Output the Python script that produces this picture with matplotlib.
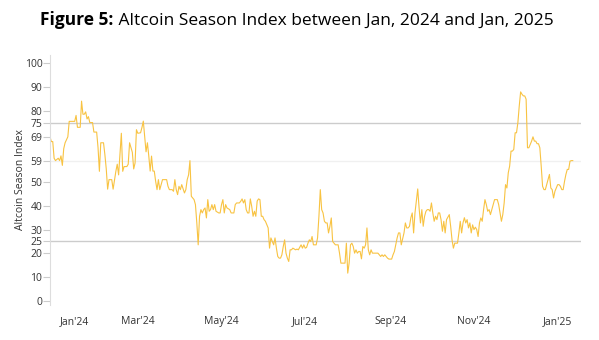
import matplotlib
matplotlib.use('Agg')
import matplotlib.pyplot as plt
import numpy as np
import pandas as pd

# days since 2023-12-28 and index values
day = [0, 1, 2, 3, 4, 6, 7, 8, 9, 10, 11, 13, 14, 16, 18, 19, 20, 22, 23, 24,
       25, 26, 27, 28, 29, 31, 32, 34, 35, 36, 37, 39, 40, 41, 42, 43, 45, 46, 48, 49,
       50, 52, 53, 54, 56, 57, 58, 60, 61, 62, 63, 64, 66, 67, 68, 70, 71, 72, 73, 74,
       75, 76, 77, 78, 79, 80, 82, 84, 85, 86, 87, 89, 90, 91, 92, 93, 94, 95, 96, 98,
       99, 100, 101, 102, 103, 105, 106, 107, 108, 109, 110, 111, 112, 113, 114, 115, 116, 117, 118, 119,
       120, 121, 123, 124, 125, 126, 127, 128, 129, 131, 132, 134, 135, 136, 138, 139, 140, 141, 142, 143,
       144, 145, 146, 147, 148, 149, 150, 151, 152, 153, 154, 155, 156, 157, 158, 159, 160, 161, 162, 163,
       164, 165, 166, 167, 168, 169, 170, 171, 172, 173, 174, 175, 176, 177, 179, 180, 181, 183, 184, 185,
       186, 187, 188, 189, 190, 191, 192, 193, 194, 195, 196, 197, 198, 199, 200, 201, 202, 203, 204, 205,
       206, 208, 210, 211, 212, 214, 215, 216, 217, 218, 219, 220, 221, 222, 223, 224, 225, 226, 227, 228,
       229, 230, 231, 232, 233, 234, 235, 237, 239, 240, 241, 242, 243, 244, 246, 247, 249, 250, 251, 252,
       253, 254, 255, 256, 258, 259, 260, 261, 262, 263, 264, 265, 266, 267, 268, 269, 270, 271, 272, 273,
       274, 275, 276, 277, 278, 279, 280, 281, 282, 283, 284, 285, 286, 287, 288, 289, 291, 292, 293, 294,
       295, 296, 297, 298, 299, 300, 301, 302, 303, 304, 305, 306, 307, 308, 309, 310, 311, 312, 313, 314,
       315, 316, 317, 318, 319, 320, 321, 322, 323, 324, 325, 326, 327, 328, 329, 330, 331, 332, 333, 334,
       335, 336, 337, 338, 339, 340, 341, 342, 343, 344, 345, 346, 347, 348, 349, 350, 351, 352, 353, 354,
       355, 356, 357, 358, 359, 360, 361, 362, 363, 364, 365, 366, 367, 368, 369, 370, 371, 372, 373, 374,
       375, 376, 377, 378, 379, 380, 381]
index_value = [69, 67, 67, 60, 59, 60, 59, 61, 57, 64, 66.5, 69, 75.5, 75.5, 75.5, 78, 73, 73, 84, 78.5,
               78.5, 79.5, 76.5, 77.5, 75, 75, 71, 71, 64.5, 54.5, 66.5, 66.5, 61.5, 55.5, 47, 51, 51, 47, 54.5, 57.5,
               53, 70.5, 54.5, 56.5, 56.5, 57.5, 66.5, 62.5, 55.5, 58, 72, 70.5, 70.7, 72.9, 75.6, 62.7, 66.5, 60.9, 54.6, 60.9,
               54.6, 54.6, 50.3, 46.8, 51, 46.8, 51, 51, 51, 48.2, 46.8, 46.8, 46.1, 51, 46.8, 44.7, 48.2, 46.8, 48.9, 45.4,
               46.8, 51, 53, 59, 44, 42.6, 40.5, 32.8, 23.6, 35.6, 38.4, 37, 38.4, 39.1, 34.9, 42.6, 37.7, 38.4, 40.5, 38.4,
               40.5, 37.7, 37, 37, 40.5, 42.6, 37, 40.5, 39.1, 38.4, 37, 37, 40.5, 41.2, 41.2, 41.9, 42.9, 41.2, 42.6, 38.4,
               37, 37, 42.9, 39.8, 35.6, 37.7, 35.6, 42, 42.9, 42.6, 35.6, 35.6, 34.2, 33.5, 32.1, 30.7, 22.2, 26.5, 25, 23.6,
               26.5, 22.2, 18.7, 18, 18, 19.4, 22.9, 25.7, 20.1, 18, 16.6, 21.5, 21.5, 22.2, 21.5, 21.8, 21.5, 23.6, 22.2, 23.6,
               22.2, 22.5, 24.3, 25.7, 25, 27.1, 23.6, 23.6, 23.6, 26.5, 35.6, 46.8, 38.4, 37, 33.5, 32.8, 32.8, 28.6, 31.4, 34.9,
               25, 23.6, 23.6, 20.1, 15.9, 15.9, 15.9, 24.3, 11.7, 15.9, 23.6, 24.3, 22.9, 20.1, 21.5, 20.1, 20.8, 20.8, 17.7, 22.9,
               22.2, 23.6, 30.7, 21.5, 19.4, 21.5, 20.1, 20.1, 20.1, 19.4, 18.7, 19.4, 18.7, 19.4, 18, 17.6, 17.6, 19.4, 20.8, 23.6,
               26.5, 28.6, 28.6, 23.6, 28.6, 32.8, 30.7, 30.7, 31.4, 35, 37, 28.6, 37, 42, 47.1, 39.1, 32.8, 38.4, 31.4, 35.6,
               37.7, 38.4, 38.4, 37.7, 41.2, 37, 33.5, 35.6, 34.2, 37, 37, 34.2, 29.3, 33.5, 28.6, 34.2, 36.3, 31.4, 25.7, 22.2,
               24.3, 24.3, 24.3, 28.6, 33.5, 28.6, 32.8, 35, 32.8, 34.2, 30.7, 32.8, 28.6, 32, 30, 31, 30, 27.1, 32.8, 34.9,
               33.5, 38.4, 42.6, 40.5, 37.7, 38.4, 36.3, 38.4, 40.5, 42.6, 42.6, 42.6, 40.5, 37, 33.5, 36.3, 41.2, 48.9, 47.5, 53.9,
               56.7, 63, 63, 63.7, 70.7, 70.7, 75, 82, 87.9, 86.9, 86.2, 86.2, 84.8, 64.4, 64.4, 65.8, 67.2, 69, 67.2, 67.2,
               66.1, 66.1, 64.4, 56.7, 48.2, 46.8, 46.8, 48.9, 51, 53.2, 47.5, 46.8, 43.3, 46.1, 47.5, 48.9, 48.9, 48.2, 46.8, 46.8,
               50.3, 53.2, 55.3, 55.3, 58.8, 59, 59]

start = pd.Timestamp('2023-12-28')
dates = start + pd.to_timedelta(day, unit='D')

yticks = [0, 10, 20, 25, 30, 40, 50, 59, 69, 75, 80, 90, 100]
xtick_dates = ['2024-01-15', '2024-03-01', '2024-05-01', '2024-07-01',
               '2024-09-01', '2024-11-01', '2025-01-01']
xtick_labels = ["Jan'24", "Mar'24", "May'24", "Jul'24", "Sep'24", "Nov'24", "Jan'25"]

plt.rcParams['font.family'] = ['Open Sans', 'DejaVu Sans']

fig = plt.figure(figsize=(5.99, 3.40), dpi=100)
ax = fig.add_axes([50/599, 1 - 305/340, 531/599, 250/340])

ax.axhline(75, color='#cccccc', lw=1, zorder=1)
ax.axhline(25, color='#cccccc', lw=1, zorder=1)
ax.axhline(59, color='#f0f0f0', lw=1, zorder=1)
ax.plot(dates, index_value, color='#f8c342', lw=0.8, zorder=2)

ax.set_xlim(start, start + pd.Timedelta(days=387))
ax.set_ylim(-1.7, 103.4)
ax.set_yticks(yticks)
ax.set_xticks(pd.to_datetime(xtick_dates))
ax.set_xticklabels(xtick_labels)
ax.tick_params(axis='y', length=5, width=0.8, color='#cccccc', labelsize=7.5,
               labelcolor='#333333', pad=0.5)
ax.tick_params(axis='x', length=0, labelsize=7.5, labelcolor='#333333', pad=8)

for s in ['top', 'right', 'bottom']:
    ax.spines[s].set_visible(False)
ax.spines['left'].set_color('#dddddd')
ax.spines['left'].set_linewidth(0.8)

ax.set_ylabel('Altcoin Season Index', fontsize=7.5, color='#333333', labelpad=-1)

# title: bold prefix followed by regular text
fig.canvas.draw()
r = fig.canvas.get_renderer()
t1 = fig.text(0, 0.94, 'Figure 5:', fontsize=12.5, fontweight='bold', va='center')
t2 = fig.text(0, 0.94, ' Altcoin Season Index between Jan, 2024 and Jan, 2025',
              fontsize=12.5, va='center')
w1 = t1.get_window_extent(r).width
w2 = t2.get_window_extent(r).width
x0 = 297 - (w1 + w2) / 2
t1.set_x(x0 / 599)
t2.set_x((x0 + w1) / 599)

fig.savefig('out.png', dpi=100)
